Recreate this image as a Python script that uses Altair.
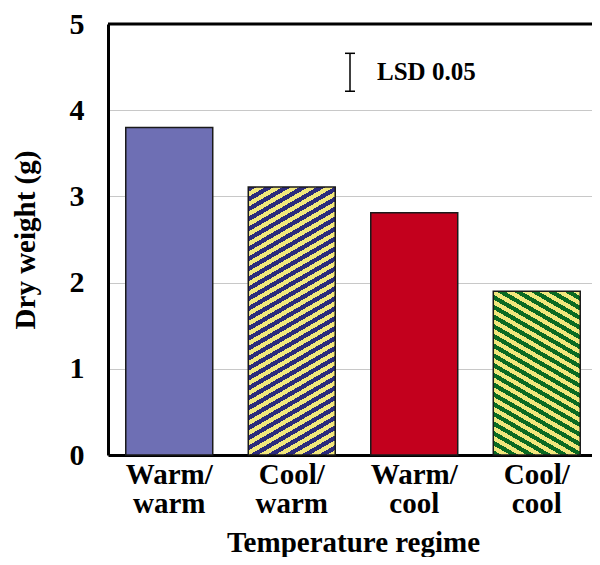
import math
import altair as alt
import pandas as pd

# ---- data ----
categories = ["Warm/warm", "Cool/warm", "Warm/cool", "Cool/cool"]
dry_weight = [3.80, 3.11, 2.81, 1.90]
y_ticks = [0, 1, 2, 3, 4, 5]
lsd_center = [4.44]
lsd_value = [0.44]
lsd_label = ["LSD 0.05"]

# ---- layout / style ----
W_PLOT, H_PLOT = 490, 431
Y_MAX = 5
PAD_INNER = 0.29
FONT = "Liberation Serif"

solid_fill = {"Warm/warm": "#6e6fb4", "Warm/cool": "#c3001d"}
stripe_fill = {
    "Cool/warm": ("#2c2a7c", "#f1e77c", "/"),
    "Cool/cool": ("#0b6a22", "#f1e77c", "\\"),
}


def stripes(c1, c2, value, direction, period=8.6, angle=30):
    step = W_PLOT / len(categories)
    bw = step * (1 - PAD_INNER)
    bh = value / Y_MAX * H_PLOT
    s, c = math.sin(math.radians(angle)), math.cos(math.radians(angle))
    L = s * bw + c * bh
    a, b = s * bw / L, c * bh / L
    den = a * a + b * b
    n = max(1, round(L / period))
    stops = []
    for k in range(n):
        stops += [
            {"offset": k / n, "color": c1},
            {"offset": (k + 0.5) / n, "color": c1},
            {"offset": (k + 0.5) / n, "color": c2},
            {"offset": (k + 1) / n, "color": c2},
        ]
    if direction == "/":
        g = dict(x1=0, y1=0, x2=a / den, y2=b / den)
    else:
        g = dict(x1=0, y1=1, x2=a / den, y2=1 - b / den)
    return {"gradient": "linear", "stops": stops, **g}


df = pd.DataFrame({"regime": categories, "weight": dry_weight})
lsd_df = pd.DataFrame({
    "center": lsd_center,
    "lo": [c - v / 2 for c, v in zip(lsd_center, lsd_value)],
    "hi": [c + v / 2 for c, v in zip(lsd_center, lsd_value)],
    "label": lsd_label,
})

x_enc = alt.X(
    "regime:N",
    sort=categories,
    scale=alt.Scale(domain=categories, paddingInner=PAD_INNER, paddingOuter=PAD_INNER / 2),
    axis=alt.Axis(
        title="Temperature regime",
        labelAngle=0,
        labelExpr="[split(datum.label, '/')[0] + '/', split(datum.label, '/')[1]]",
        labelFont=FONT, labelFontWeight="bold", labelFontSize=29, labelColor="black",
        labelLineHeight=29, labelPadding=5,
        ticks=False, tickSize=0,
        domainColor="black", domainWidth=3,
        titleFont=FONT, titleFontWeight="bold", titleFontSize=29, titleColor="black",
        titlePadding=10,
        grid=False,
    ),
)
y_enc = alt.Y(
    "weight:Q",
    scale=alt.Scale(domain=[0, Y_MAX], nice=False),
    axis=alt.Axis(
        values=y_ticks, format="d",
        title="Dry weight (g)",
        labelFont=FONT, labelFontWeight="bold", labelFontSize=30, labelColor="black",
        labelPadding=24, ticks=False, tickSize=0,
        domainColor="black", domainWidth=3,
        grid=True, gridColor="#c8c8c8", gridWidth=1,
        titleFont=FONT, titleFontWeight="bold", titleFontSize=29, titleColor="black",
        titlePadding=29,
    ),
)

layers = []
for cat, val in zip(categories, dry_weight):
    if cat in solid_fill:
        fill = solid_fill[cat]
    else:
        c1, c2, d = stripe_fill[cat]
        fill = stripes(c1, c2, val, d)
    layers.append(
        alt.Chart(df)
        .transform_filter(alt.datum.regime == cat)
        .mark_bar(fill=fill, stroke="#1a1a1a", strokeWidth=1.5)
        .encode(x=x_enc, y=y_enc)
    )

top_rule = alt.Chart(df).transform_filter(alt.datum.regime == categories[0]).mark_rule(
    color="black", strokeWidth=3
).encode(y=alt.datum(Y_MAX), x=alt.value(0), x2=alt.value(W_PLOT))

lsd_x = 242
lsd_bar = alt.Chart(lsd_df).mark_rule(color="black", strokeWidth=1.5).encode(
    x=alt.value(lsd_x), y=alt.Y("lo:Q"), y2="hi:Q"
)
lsd_cap_lo = alt.Chart(lsd_df).mark_rule(color="black", strokeWidth=1.5).encode(
    x=alt.value(lsd_x - 5), x2=alt.value(lsd_x + 5), y=alt.Y("lo:Q")
)
lsd_cap_hi = alt.Chart(lsd_df).mark_rule(color="black", strokeWidth=1.5).encode(
    x=alt.value(lsd_x - 5), x2=alt.value(lsd_x + 5), y=alt.Y("hi:Q")
)
lsd_text = alt.Chart(lsd_df).mark_text(
    align="left", baseline="middle", font=FONT, fontWeight="bold", fontSize=25, color="black"
).encode(x=alt.value(lsd_x + 27), y=alt.Y("center:Q"), text="label:N")

chart = (
    alt.layer(*layers, top_rule, lsd_bar, lsd_cap_lo, lsd_cap_hi, lsd_text)
    .properties(
        width=W_PLOT, height=H_PLOT,
        autosize=alt.AutoSizeParams(type="none"),
        padding={"left": 100, "top": 16, "right": -6, "bottom": 102},
    )
    .configure_view(stroke="#b0b0b0", strokeWidth=1)
    .configure(background="white")
)

chart.save("out.html", embed_options={"renderer": "svg", "actions": False})
